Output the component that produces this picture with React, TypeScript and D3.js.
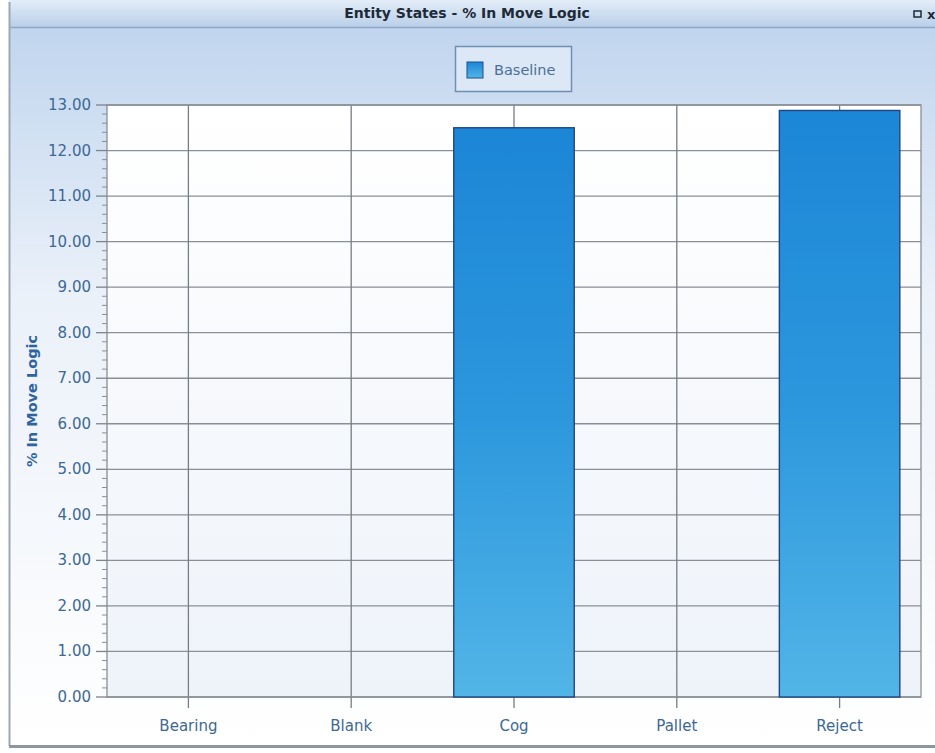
import React from "react";
import * as d3 from "d3";

const categories = ["Bearing", "Blank", "Cog", "Pallet", "Reject"];
const baseline = [0, 0, 12.5, 0, 12.88];
const yTicks = [0, 1, 2, 3, 4, 5, 6, 7, 8, 9, 10, 11, 12, 13];
const seriesName = "Baseline";
const chartTitle = "Entity States - % In Move Logic";
const yAxisTitle = "% In Move Logic";

const W = 935, H = 753;
const plot = { left: 107, right: 921, top: 105, bottom: 697 };
const font = "Tahoma, 'DejaVu Sans', Verdana, sans-serif";
const labelColor = "#3d6896";

export default function App() {
  const x = d3.scaleBand<string>().domain(categories).range([plot.left, plot.right]).paddingInner(0).paddingOuter(0);
  const y = d3.scaleLinear().domain([0, 13]).range([plot.bottom, plot.top]);
  const barW = x.bandwidth() * 0.74;
  const minor = d3.range(0, 13.001, 0.2).filter((v) => Math.abs(v - Math.round(v)) > 1e-6);

  return (
    <svg width={W} height={H} style={{ position: "absolute", left: 0, top: 0 }}>
      <defs>
        <linearGradient id="bg" x1="0" y1="0" x2="0" y2="1">
          <stop offset="0" stopColor="#bcd2ed" />
          <stop offset="0.4" stopColor="#ebf1f9" />
          <stop offset="1" stopColor="#ffffff" />
        </linearGradient>
        <linearGradient id="titlebar" x1="0" y1="0" x2="0" y2="1">
          <stop offset="0" stopColor="#e3edf8" />
          <stop offset="1" stopColor="#b9cfe8" />
        </linearGradient>
        <linearGradient id="plotbg" x1="0" y1="0" x2="0" y2="1">
          <stop offset="0" stopColor="#ffffff" />
          <stop offset="1" stopColor="#eef3fa" />
        </linearGradient>
        <linearGradient id="bar" x1="0" y1="0" x2="0" y2="1">
          <stop offset="0" stopColor="#1c86d7" />
          <stop offset="0.5" stopColor="#2c97dd" />
          <stop offset="1" stopColor="#52b5e7" />
        </linearGradient>
        <linearGradient id="swatch" x1="0" y1="0" x2="0" y2="1">
          <stop offset="0" stopColor="#1c86d7" />
          <stop offset="1" stopColor="#52b5e7" />
        </linearGradient>
      </defs>
      <rect x={0} y={0} width={W} height={H} fill="#ffffff" />
      <rect x={9} y={0} width={W - 9} height={746} fill="url(#bg)" />
      <rect x={9} y={0} width={W - 9} height={27} fill="url(#titlebar)" />
      <line x1={9} x2={W} y1={27.5} y2={27.5} stroke="#8ea8c6" strokeWidth={1.5} />
      <line x1={9.5} x2={9.5} y1={2} y2={746} stroke="#9aa7b6" strokeWidth={2} />
      <line x1={9} x2={W} y1={746.5} y2={746.5} stroke="#8d959e" strokeWidth={3} />
      <text x={467} y={18} textAnchor="middle" fontFamily={font} fontSize={14} fontWeight="bold" fill="#1e2a38">{chartTitle}</text>
      <rect x={914} y={11} width={7} height={6} fill="none" stroke="#1e2a38" strokeWidth={1.5} />
      <text x={927} y={19} fontFamily={font} fontSize={13} fontWeight="bold" fill="#1e2a38">x</text>

      {/* legend */}
      <rect x={455.5} y={46.5} width={116} height={45} fill="#dce8f5" stroke="#6f8fb5" strokeWidth={1.5} />
      <rect x={467} y={62} width={16} height={16} fill="url(#swatch)" stroke="#1f4f8f" strokeWidth={1} />
      <text x={494} y={75} fontFamily={font} fontSize={14.5} fill="#4a6f99">{seriesName}</text>

      {/* plot */}
      <rect x={plot.left} y={plot.top} width={plot.right - plot.left} height={plot.bottom - plot.top} fill="url(#plotbg)" />
      {yTicks.map((t) => (
        <line key={"g" + t} x1={plot.left} x2={plot.right} y1={y(t)} y2={y(t)} stroke="#8a8f96" strokeWidth={1.3} />
      ))}
      {categories.map((c) => (
        <line key={"v" + c} x1={x(c)! + x.bandwidth() / 2} x2={x(c)! + x.bandwidth() / 2} y1={plot.top} y2={plot.bottom + 11} stroke="#777d85" strokeWidth={1.3} />
      ))}
      <rect x={plot.left} y={plot.top} width={plot.right - plot.left} height={plot.bottom - plot.top} fill="none" stroke="#8a8f96" strokeWidth={1.3} />

      {categories.map((c, i) =>
        baseline[i] > 0 ? (
          <rect key={"b" + c} x={x(c)! + (x.bandwidth() - barW) / 2} y={y(baseline[i])} width={barW} height={y(0) - y(baseline[i])} fill="url(#bar)" stroke="#1f4583" strokeWidth={1.4} />
        ) : null
      )}

      {/* y axis ticks */}
      {yTicks.map((t) => (
        <g key={"t" + t}>
          <line x1={96} x2={plot.left} y1={y(t)} y2={y(t)} stroke="#7d838a" strokeWidth={1.3} />
          <text x={91} y={y(t) + 5} textAnchor="end" fontFamily={font} fontSize={15} fill={labelColor}>{t.toFixed(2)}</text>
        </g>
      ))}
      {minor.map((m, i) => (
        <line key={"m" + i} x1={102} x2={plot.left} y1={y(m)} y2={y(m)} stroke="#8a8f96" strokeWidth={1} />
      ))}
      <text transform={`translate(37, ${(plot.top + plot.bottom) / 2}) rotate(-90)`} textAnchor="middle" fontFamily={font} fontSize={14.5} fontWeight="bold" fill="#2f64a0">{yAxisTitle}</text>

      {categories.map((c) => (
        <text key={"l" + c} x={x(c)! + x.bandwidth() / 2} y={731} textAnchor="middle" fontFamily={font} fontSize={15} fill={labelColor}>{c}</text>
      ))}
    </svg>
  );
}
